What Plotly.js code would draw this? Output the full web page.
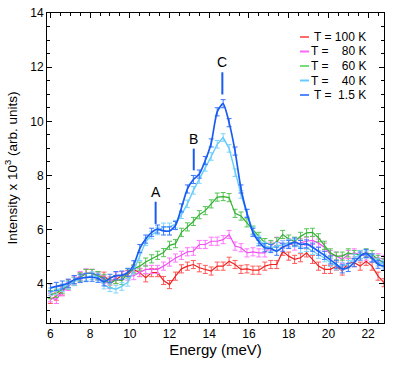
<!DOCTYPE html>
<html>
<head>
<meta charset="utf-8">
<script src="https://cdn.plot.ly/plotly-3.0.1.min.js"></script>
<style>html,body{margin:0;padding:0;background:#fff;}#chart{width:399px;height:367px;}</style>
</head>
<body>
<div id="chart"></div>
<script>
// Energy grid (meV)
const energy = [6.0, 6.3, 6.6, 6.9, 7.2, 7.5, 7.8, 8.1, 8.4, 8.7, 9.0, 9.3, 9.6, 9.9, 10.2, 10.5, 10.8, 11.1, 11.4, 11.7, 12.0, 12.3, 12.6, 12.9, 13.2, 13.5, 13.8, 14.1, 14.4, 14.7, 15.0, 15.3, 15.6, 15.9, 16.2, 16.5, 16.8, 17.1, 17.4, 17.7, 18.0, 18.3, 18.6, 18.9, 19.2, 19.5, 19.8, 20.1, 20.4, 20.7, 21.0, 21.3, 21.6, 21.9, 22.2, 22.5, 22.8];

const t100 = [3.42, 3.54, 3.73, 4.00, 4.15, 4.25, 4.38, 4.38, 4.28, 4.28, 4.10, 4.16, 4.30, 4.34, 4.53, 4.41, 4.22, 4.41, 4.41, 4.12, 3.97, 4.28, 4.55, 4.65, 4.71, 4.59, 4.53, 4.47, 4.65, 4.65, 4.83, 4.71, 4.53, 4.55, 4.50, 4.50, 4.65, 4.71, 4.71, 5.20, 5.02, 4.90, 4.96, 5.14, 4.90, 4.65, 4.53, 4.53, 4.65, 4.47, 4.78, 4.78, 4.65, 4.83, 4.65, 4.28, 4.04];
const t80 = [3.48, 3.42, 3.70, 3.90, 4.10, 4.30, 4.40, 4.38, 4.30, 4.15, 3.97, 4.28, 4.30, 4.28, 4.30, 4.42, 4.53, 4.53, 4.53, 4.65, 4.80, 4.95, 5.05, 5.18, 5.20, 5.45, 5.45, 5.57, 5.57, 5.63, 5.82, 5.39, 5.33, 5.14, 5.18, 5.14, 5.14, 5.39, 5.57, 5.45, 5.51, 5.39, 5.51, 5.57, 5.60, 5.50, 5.35, 5.08, 5.02, 4.90, 5.08, 5.14, 5.08, 5.02, 4.96, 4.96, 4.90];
const t60 = [3.60, 3.65, 3.80, 3.95, 4.08, 4.25, 4.38, 4.38, 4.30, 4.20, 4.00, 4.15, 4.12, 4.40, 4.55, 4.65, 4.80, 4.92, 5.05, 5.15, 5.42, 5.48, 5.90, 6.10, 6.30, 6.55, 6.70, 6.95, 7.20, 7.22, 7.18, 6.60, 6.50, 6.25, 5.98, 5.75, 5.52, 5.45, 5.55, 5.82, 5.65, 5.57, 5.75, 5.88, 5.90, 5.70, 5.42, 5.14, 5.02, 5.02, 5.14, 5.08, 5.08, 5.14, 5.08, 4.90, 4.78];
const t40 = [3.70, 3.75, 3.85, 3.95, 4.08, 4.18, 4.25, 4.30, 4.25, 3.95, 3.85, 3.80, 3.90, 4.05, 4.50, 5.00, 5.55, 5.80, 5.95, 6.10, 6.10, 6.20, 6.55, 6.95, 7.45, 7.85, 8.30, 8.70, 9.15, 9.40, 9.00, 8.10, 7.30, 6.60, 5.95, 5.62, 5.40, 5.33, 5.38, 5.45, 5.50, 5.50, 5.30, 5.33, 5.22, 5.08, 4.95, 4.78, 4.65, 4.65, 4.72, 4.95, 5.08, 5.08, 4.95, 4.80, 4.72];
const t1p5 = [3.85, 3.90, 3.95, 4.02, 4.15, 4.20, 4.23, 4.24, 4.20, 4.07, 4.20, 4.30, 4.32, 4.42, 4.70, 5.30, 5.65, 5.90, 6.02, 5.95, 5.95, 6.15, 6.80, 7.50, 7.85, 8.05, 8.55, 9.20, 10.35, 10.65, 9.95, 8.90, 7.50, 6.60, 5.90, 5.55, 5.33, 5.30, 5.20, 5.35, 5.45, 5.54, 5.45, 5.47, 5.35, 5.20, 5.05, 4.88, 4.72, 4.55, 4.60, 4.78, 5.02, 5.12, 4.95, 4.72, 4.65];

const errSize = [0.15, 0.15, 0.15, 0.14, 0.15];
const seriesNames = ['T = 100 K', 'T = \u2007 80 K', 'T = \u2007 60 K', 'T = \u2007 40 K', 'T = \u20081.5 K'];
const seriesData = [t100, t80, t60, t40, t1p5];
const lineColors = ['#ee2020', '#f050f0', '#30b030', '#66ccf8', '#1a5cf0'];
const errColors = ['#ff5a5a', '#ff77ff', '#55c455', '#80d4ff', '#3a78ff'];
const legendColors = ['#ff6a6a', '#ff66ff', '#77dd77', '#66ccff', '#5588ff'];
const lineWidths = [1.2, 1.2, 1.2, 1.4, 1.7];
const lineShapes = ['linear', 'linear', 'linear', 'linear', 'spline'];

const peakLabels = ['A', 'B', 'C'];
const peakE = [11.3, 13.22, 14.66];
const peakLineLow = [6.21, 8.19, 10.99];
const peakLineHigh = [7.03, 8.99, 11.81];
const peakLabelY = [7.38, 9.33, 12.19];

const traces = seriesData.map((y, i) => ({
  x: energy, y: y, type: 'scatter', mode: 'lines', name: seriesNames[i],
  line: {color: lineColors[i], width: lineWidths[i], shape: lineShapes[i], smoothing: 0.6},
  error_y: {type: 'constant', value: errSize[i], color: errColors[i], thickness: 1, width: 2.5},
  showlegend: false
}));

const shapes = [];
const annotations = [];
peakLabels.forEach((lab, i) => {
  shapes.push({type: 'line', xref: 'x', yref: 'y', x0: peakE[i], x1: peakE[i], y0: peakLineLow[i], y1: peakLineHigh[i], line: {color: '#1a5cf0', width: 2}});
  annotations.push({x: peakE[i], y: peakLabelY[i], xref: 'x', yref: 'y', text: lab, showarrow: false, font: {size: 14, color: '#000'}});
});

// compact legend (paper coords)
const plotL = 47, plotR = 384, plotT = 13, plotB = 323;
const px2x = p => (p - plotL) / (plotR - plotL);
const px2y = p => (plotB - p) / (plotB - plotT);
seriesNames.forEach((nm, i) => {
  const yc = 37 + i * 14.5;
  shapes.push({type: 'line', xref: 'paper', yref: 'paper', x0: px2x(300), x1: px2x(309), y0: px2y(yc), y1: px2y(yc), line: {color: legendColors[i], width: 2}});
  annotations.push({xref: 'paper', yref: 'paper', x: px2x(368), y: px2y(yc), xanchor: 'right', yanchor: 'middle', text: nm, showarrow: false, font: {size: 12, color: '#000'}});
});

const axisCommon = {
  showline: true, linecolor: '#000', linewidth: 1, mirror: 'allticks',
  ticks: 'inside', ticklen: 5, tickcolor: '#000', tickwidth: 1,
  showgrid: false, zeroline: false,
  tickfont: {size: 12, color: '#000'}
};

const layout = {
  width: 399, height: 367,
  margin: {l: plotL, r: 399 - plotR, t: plotT, b: 367 - plotB},
  paper_bgcolor: '#fff', plot_bgcolor: '#fff',
  font: {family: '"Liberation Sans", Arial, Helvetica, sans-serif', color: '#000'},
  xaxis: Object.assign({}, axisCommon, {
    range: [5.83, 22.8], dtick: 2, tick0: 0,
    minor: {dtick: 0.5, ticklen: 3, tickcolor: '#000', ticks: 'inside'},
    title: {text: 'Energy (meV)', font: {size: 15}, standoff: 3}
  }),
  yaxis: Object.assign({}, axisCommon, {
    range: [2.55, 14], dtick: 2, tick0: 0,
    minor: {dtick: 0.5, ticklen: 3, tickcolor: '#000', ticks: 'inside'},
    title: {text: 'Intensity x 10<sup>3</sup> (arb. units)', font: {size: 13.5}, standoff: 9}
  }),
  shapes: shapes,
  annotations: annotations,
  showlegend: false
};

Plotly.newPlot('chart', traces, layout, {displayModeBar: false, staticPlot: true});
</script>
</body>
</html>
